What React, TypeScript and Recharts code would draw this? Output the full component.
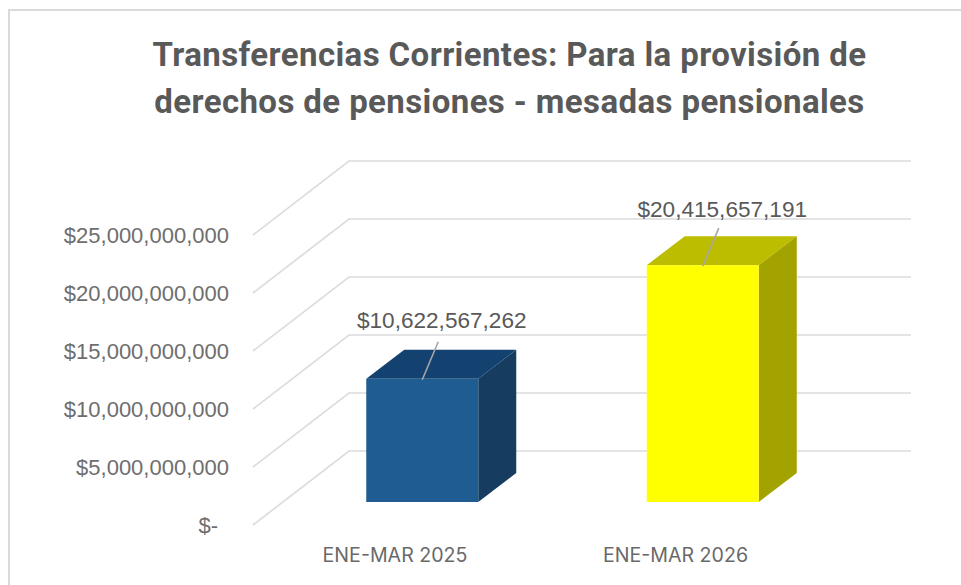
import React from "react";
import { BarChart, Bar, XAxis, YAxis, CartesianGrid, LabelList } from "recharts";

const categories = ["ENE-MAR 2025", "ENE-MAR 2026"];
const values = [10622567262, 20415657191];
const yTicks = [0, 5000000000, 10000000000, 15000000000, 20000000000, 25000000000];
const titleLines = [
  "Transferencias Corrientes: Para la provisión de",
  "derechos de pensiones - mesadas pensionales",
];
const frontColors = ["#1F5C91", "#FFFF00"];
const topColors = ["#144270", "#BDBD00"];
const sideColors = ["#163C60", "#A3A300"];

const data = categories.map((name, i) => ({ name, value: values[i] }));

const W = 961;
const H = 585;
const DEPTH_X = 38;
const DEPTH_Y = 29;
const GRID_LEFT = 253;
const GRID_BACK = 349;
const GRID_RIGHT = 911;
const SANS = "'Liberation Sans', Arial, sans-serif";

const money = (v: number) => "$" + v.toLocaleString("en-US");

function Box3D(props: any) {
  const { x, y, width, height, index } = props;
  const r = x + width;
  const b = y + height;
  return (
    <g>
      <polygon
        points={`${x},${y} ${x + DEPTH_X},${y - DEPTH_Y} ${r + DEPTH_X},${y - DEPTH_Y} ${r},${y}`}
        fill={topColors[index]}
      />
      <polygon
        points={`${r},${y} ${r + DEPTH_X},${y - DEPTH_Y} ${r + DEPTH_X},${b - DEPTH_Y} ${r},${b}`}
        fill={sideColors[index]}
      />
      <rect x={x} y={y} width={width} height={height} fill={frontColors[index]} />
    </g>
  );
}

function ValueLabel(props: any) {
  const { x, y, width, value, index } = props;
  const cx = x + width / 2;
  return (
    <g>
      <line x1={cx} y1={y + 1} x2={cx + 16} y2={y - 37} stroke="#A6A6A6" strokeWidth={1.6} />
      <text
        x={cx + 19.5}
        y={y - (index === 0 ? 51 : 48)}
        textAnchor="middle"
        fontFamily={SANS}
        fontSize={22.6}
        fill="#595959"
      >
        {money(value)}
      </text>
    </g>
  );
}

function YTick(props: any) {
  const v = props.payload.value;
  const isZero = v === 0;
  return (
    <text
      x={isZero ? 218 : 229}
      y={props.y + 31}
      textAnchor="end"
      fontFamily={SANS}
      fontSize={22}
      fill="#6E6E6E"
    >
      {isZero ? "$-" : money(v)}
    </text>
  );
}

function XTick(props: any) {
  return (
    <text
      x={props.x - 27.5}
      y={562}
      textAnchor="middle"
      fontFamily="Inter, 'Noto Sans', sans-serif"
      fontSize={19.6}
      fill="#696969"
    >
      {props.payload.value}
    </text>
  );
}

function GridPath(props: any) {
  const y = props.y1;
  return (
    <polyline
      points={`${GRID_LEFT},${y + 23} ${GRID_BACK},${y - 51} ${GRID_RIGHT},${y - 51}`}
      fill="none"
      stroke="#DCDCDC"
      strokeWidth={1.7}
    />
  );
}

export default function App() {
  return (
    <div style={{ position: "absolute", left: 0, top: 0, width: W, height: H, overflow: "hidden", background: "#fff" }}>
      <div
        style={{
          position: "absolute",
          left: 8,
          top: 9,
          width: W,
          height: H,
          borderTop: "2.5px solid #D9D9D9",
          borderLeft: "2.5px solid #D9D9D9",
        }}
      />
      <div style={{ position: "absolute", left: 0, top: 0 }}>
        <BarChart
          width={W}
          height={H}
          data={data}
          barSize={112}
          margin={{ top: 212, right: 117.75, bottom: 43, left: 222.25 }}
        >
          <CartesianGrid vertical={false} horizontal={(p: any) => <GridPath key={p.key ?? p.y1} {...p} />} />
          <XAxis dataKey="name" height={40} axisLine={false} tickLine={false} tick={<XTick />} interval={0} />
          <YAxis
            width={60}
            domain={[0, 25000000000]}
            ticks={yTicks}
            axisLine={false}
            tickLine={false}
            tick={<YTick />}
            interval={0}
          />
          <Bar dataKey="value" shape={<Box3D />} isAnimationActive={false}>
            <LabelList dataKey="value" content={<ValueLabel />} />
          </Bar>
          {titleLines.map((line, i) => (
            <text
              key={line}
              x={509.5}
              y={66 + i * 47}
              textAnchor="middle"
              fontFamily="Roboto, 'Noto Sans', sans-serif"
              fontWeight={700}
              fontSize={33}
              letterSpacing={0.4}
              fill="#595959"
            >
              {line}
            </text>
          ))}
        </BarChart>
      </div>
    </div>
  );
}
